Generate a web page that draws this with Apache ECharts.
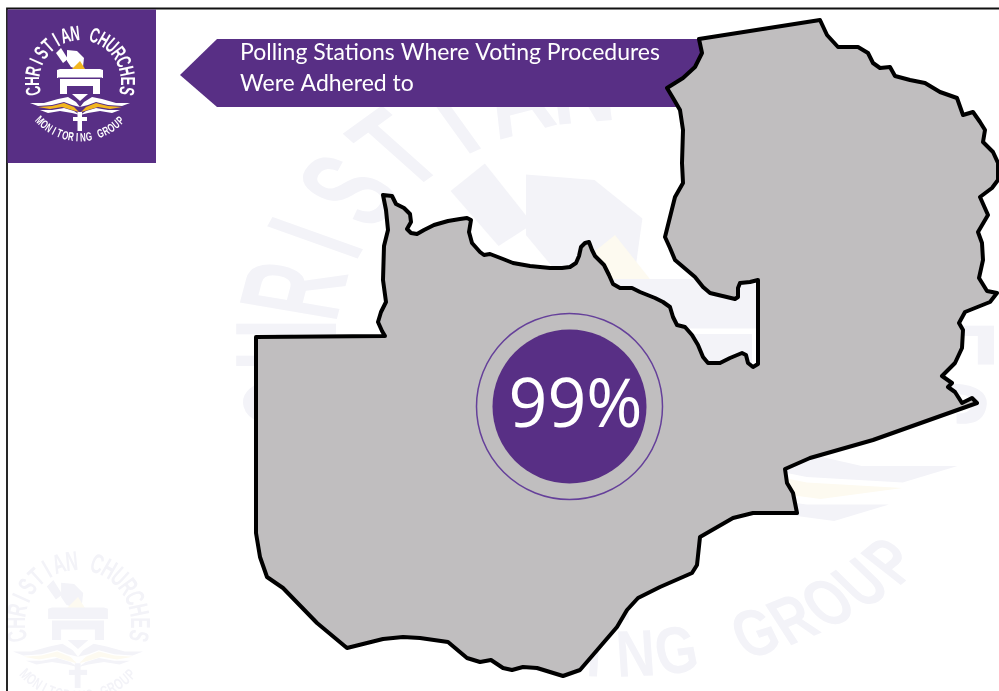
<!DOCTYPE html>
<html>
<head>
<meta charset="utf-8">
<title>Polling Stations Where Voting Procedures Were Adhered to</title>
<script src="https://cdn.jsdelivr.net/npm/echarts@6/dist/echarts.min.js"></script>
<style>
  html, body { margin: 0; padding: 0; background: #ffffff; }
  #chart { width: 999px; height: 691px; }
</style>
</head>
<body>
<div id="chart"></div>
<script>
// Headline and organisation wording
const titleLines = ['Polling Stations Where Voting Procedures', 'Were Adhered to'];
const logoTopText = 'CHRISTIAN CHURCHES';
const logoBottomText = 'MONITORING GROUP';

// Share of polling stations reported by the monitors
const adheredPercent = 99;
// Where the figure sits on the map, in map units
const figureAnchor = [569.5, 406.5];

// National boundary of Zambia, in map units, clockwise from the north-west corner
const zambiaOutline = [
  [256,337],[385,336],[382,331],[378,322],[381,312],[386,302],[383,280],[384,246],[388,230],[386,210],[383,195],
  [392,196],[396,204],[404,208],[410,214],[411,222],[407,229],[411,233],[417,234],[424,230],[434,225],[448,221],
  [460,219],[467,218],[471,220],[469,232],[472,243],[480,252],[484,255],[490,254],[503,259],[513,263],[530,266],
  [550,268],[562,268],[570,267],[576,263],[579,256],[581,247],[585,243],[589,242],[592,250],[595,256],[604,265],
  [609,275],[613,284],[620,288],[632,288],[640,292],[655,298],[663,302],[670,307],[673,317],[677,325],[685,327],
  [692,335],[698,345],[703,357],[708,363],[720,363],[730,358],[742,353],[746,355],[748,363],[753,367],[758,364],
  [758,280],[750,282],[740,283],[738,288],[738,297],[735,299],[710,293],[703,287],[695,277],[675,260],[670,248],
  [665,237],[670,217],[675,197],[683,183],[682,163],[683,130],[680,110],[673,98],[667,88],[683,78],[695,67],
  [702,53],[699,39],[820,20],[827,35],[838,47],[858,47],[868,53],[873,63],[880,68],[890,67],[895,76],[910,80],
  [925,83],[940,92],[957,98],[963,115],[973,112],[980,122],[985,130],[983,142],[993,152],[998,163],[998,180],
  [992,188],[980,197],[988,215],[978,232],[982,243],[983,260],[979,278],[987,291],[997,293],[990,302],[965,312],
  [959,323],[963,330],[962,348],[955,363],[942,376],[952,383],[948,387],[955,392],[962,403],[972,398],[977,403],
  [963,408],[873,440],[810,458],[785,469],[787,483],[793,493],[797,513],[753,513],[733,518],[700,537],[697,565],
  [692,573],[660,587],[638,598],[627,610],[617,627],[580,670],[563,676],[537,668],[523,667],[512,670],[503,668],
  [491,660],[480,662],[467,658],[448,642],[420,638],[403,637],[383,639],[347,648],[317,623],[283,588],[267,577],
  [260,557],[256,533]
];

const PURPLE = '#582f85';

echarts.registerMap('zambia', {
  type: 'FeatureCollection',
  features: [{
    type: 'Feature',
    properties: { name: 'Zambia' },
    geometry: { type: 'Polygon', coordinates: [zambiaOutline.concat([zambiaOutline[0]])] }
  }]
});

const xs = zambiaOutline.map(p => p[0]);
const ys = zambiaOutline.map(p => p[1]);
const xMin = Math.min(...xs), xMax = Math.max(...xs);
const yMin = Math.min(...ys), yMax = Math.max(...ys);

// The organisation's emblem, drawn around its own centre so it can be reused at any scale
function emblem(x, y, scaleX, scaleY, ink, gold, hole) {
  const poly = (points, fill) => ({ type: 'polygon', shape: { points }, style: { fill } });
  const mirror = pts => pts.map(p => [-p[0], p[1]]);
  const children = [];

  const topStep = 12 * Math.PI / 180;
  Array.from(logoTopText).forEach((ch, i) => {
    const a = (i - (logoTopText.length - 1) / 2) * topStep;
    children.push({
      type: 'text', x: 46.5 * Math.sin(a), y: -46.5 * Math.cos(a), rotation: -a, scaleX: 0.62,
      style: { text: ch, fill: ink, font: 'bold 21px "Liberation Sans"', align: 'center', verticalAlign: 'middle' }
    });
  });

  const bottomStep = 6.1 * Math.PI / 180;
  Array.from(logoBottomText).forEach((ch, i) => {
    const a = (i - (logoBottomText.length - 1) / 2) * bottomStep;
    children.push({
      type: 'text', x: 57 * Math.sin(a), y: 57 * Math.cos(a), rotation: a, scaleX: 0.66,
      style: { text: ch, fill: ink, font: 'bold 12px "Liberation Sans"', align: 'center', verticalAlign: 'middle' }
    });
  });

  // Hand dropping a ballot into the box
  children.push(poly([[-24,-28],[-19,-33],[-12,-22],[-17,-18]], ink));
  children.push(poly([[-13,-31],[-3,-30],[4,-23],[3,-14],[-3,-12],[-9,-14],[-13,-20]], ink));
  children.push(poly([[-9,-11],[0,-20],[7,-9],[-3,-8]], gold));
  children.push(poly([[-23,-11],[-20,-12],[20,-12],[23,-11],[23,-3],[-23,-3]], ink));
  children.push(poly([[-20,-2],[20,-2],[20,13],[13,13],[13,5],[-13,5],[-13,13],[-20,13]], ink));
  if (hole) children.push(poly([[-22,-3.4],[22,-3.4],[22,-2.4],[-22,-2.4]], hole));

  // Open book with the cross beneath it
  children.push(poly([[-8,13],[8,13],[0,20]], ink));
  const upper = [[-50,22],[-36,22],[-22,18],[-12,16],[-4,21],[0,26],[-8,24],[-16,21],[-28,24],[-42,25]];
  const middle = [[-42,26],[-28,25],[-16,22],[-6,26],[-1,31],[-8,29],[-18,26],[-30,28]];
  const lower = [[-40,29],[-28,29],[-16,27],[-6,30],[0,34],[-8,32],[-20,30],[-32,32]];
  [upper, lower].forEach(w => {
    children.push(poly(w, ink));
    children.push(poly(mirror(w), ink));
  });
  children.push(poly(middle, gold));
  children.push(poly(mirror(middle), gold));
  children.push(poly([[-2.5,31],[2,31],[2,50],[-2.5,50]], ink));
  children.push(poly([[-7,36],[7,36],[7,40],[-7,40]], ink));

  return { type: 'group', x, y, scaleX, scaleY, silent: true, children };
}

const WASH = '#f3f3f8', WASH_GOLD = '#fdfaf0';

const chart = echarts.init(document.getElementById('chart'), null, { renderer: 'canvas' });
chart.setOption({
  animation: false,
  backgroundColor: '#ffffff',
  graphic: {
    elements: [
      // Watermarks
      emblem(615, 345, 6.85, 5.5, WASH, WASH_GOLD, null),
      emblem(78, 623, 1.3, 1.3, WASH, WASH_GOLD, null),
      // Page frame
      { type: 'polyline', silent: true,
        shape: { points: [[7,691],[7,8.5],[999,8.5]] },
        style: { stroke: '#111111', lineWidth: 1.8, fill: null } },
      // Logo tile
      { type: 'rect', silent: true, shape: { x: 7.5, y: 9.5, width: 148.5, height: 153.5 }, style: { fill: PURPLE } },
      emblem(80, 81, 1, 1, '#ffffff', '#f2b61f', PURPLE),
      // Headline banner
      { type: 'polygon', silent: true,
        shape: { points: [[180,75],[217,39],[705,39],[705,107],[217,107]] },
        style: { fill: PURPLE } },
      { type: 'text', silent: true, x: 240, y: 52.5,
        style: { text: titleLines[0], fill: '#ffffff', font: '23px Lato', verticalAlign: 'middle' } },
      { type: 'text', silent: true, x: 240, y: 83.5,
        style: { text: titleLines[1], fill: '#ffffff', font: '23px Lato', verticalAlign: 'middle' } }
    ]
  },
  geo: {
    map: 'zambia',
    projection: { project: p => p, unproject: p => p },
    layoutCenter: [(xMin + xMax) / 2, (yMin + yMax) / 2],
    layoutSize: Math.max(xMax - xMin, yMax - yMin),
    roam: false,
    silent: true,
    label: { show: false },
    itemStyle: { areaColor: '#c0bebf', borderColor: '#000000', borderWidth: 4, borderJoin: 'round' },
    emphasis: { disabled: true }
  },
  series: [
    {
      type: 'scatter', coordinateSystem: 'geo', silent: true, z: 3,
      symbolSize: 186,
      itemStyle: { opacity: 1, color: 'rgba(0,0,0,0)', borderColor: '#65409a', borderWidth: 1.5 },
      data: [figureAnchor]
    },
    {
      type: 'scatter', coordinateSystem: 'geo', silent: true, z: 4,
      symbolSize: 154,
      itemStyle: { opacity: 1, color: PURPLE },
      label: {
        show: true, position: 'inside', color: '#ffffff', opacity: 1,
        fontFamily: 'Open Sans', fontSize: 68, offset: [6, 1],
        formatter: p => p.value[2] + '%'
      },
      data: [figureAnchor.concat([adheredPercent])]
    }
  ]
});
</script>
</body>
</html>
